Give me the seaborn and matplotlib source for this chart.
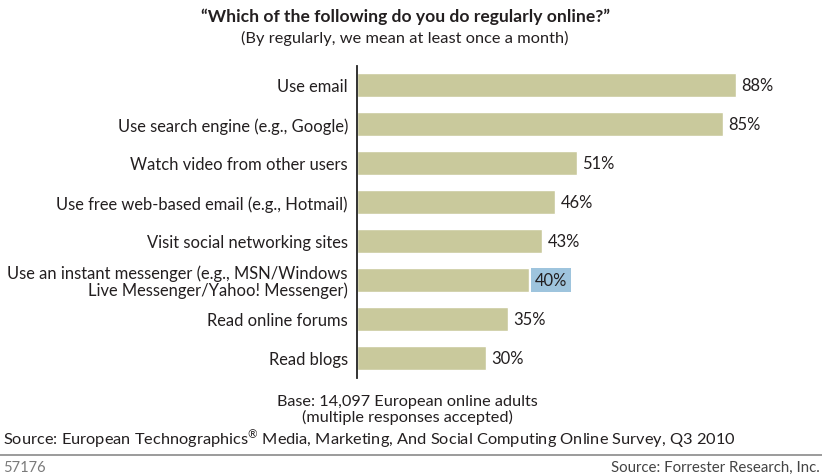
import matplotlib
matplotlib.use("Agg")
import matplotlib.pyplot as plt
import seaborn as sns
import pandas as pd

# Survey answers and shares of respondents (%)
activities = [
    "Use email",
    "Use search engine (e.g., Google)",
    "Watch video from other users",
    "Use free web-based email (e.g., Hotmail)",
    "Visit social networking sites",
    "Use an instant messenger (e.g., MSN/Windows\nLive Messenger/Yahoo! Messenger)",
    "Read online forums",
    "Read blogs",
]
shares = [88, 85, 51, 46, 43, 40, 35, 30]
highlighted = "40%"

title = "\u201cWhich of the following do you do regularly online?\u201d"
subtitle = "(By regularly, we mean at least once a month)"
base_note = "Base: 14,097 European online adults\n(multiple responses accepted)"
source_note = ("Source: European Technographics$^{\u00ae}$ Media, Marketing, And Social "
               "Computing Online Survey, Q3 2010")
figure_id = "57176"
credit = "Source: Forrester Research, Inc."

sns.set_theme(style="white")
plt.rcParams["font.family"] = ["Lato", "DejaVu Sans"]
plt.rcParams["mathtext.fontset"] = "custom"
plt.rcParams["mathtext.rm"] = "Lato"
plt.rcParams["mathtext.it"] = "Lato"
plt.rcParams["mathtext.default"] = "rm"

TEXT = "#231f20"
BAR = "#c9c99c"

df = pd.DataFrame({"activity": activities, "share": shares})

fig = plt.figure(figsize=(8.22, 4.77), dpi=100)
ax = fig.add_axes([357 / 822, 1 - 378.5 / 477, 431 / 822, 312 / 477])

sns.barplot(data=df, x="share", y="activity", orient="h", color=BAR,
            width=0.62, saturation=1, ax=ax)

ax.set_xlim(0, 100)
ax.set_ylim(len(activities) - 0.5, -0.5)
ax.set_xlabel("")
ax.set_ylabel("")
ax.set_xticks([])
ax.tick_params(axis="y", length=0, pad=6.5, labelsize=11.9, labelcolor=TEXT)
for lbl in ax.get_yticklabels():
    lbl.set_multialignment("right")
    lbl.set_linespacing(1.0)
for side in ["top", "right", "bottom"]:
    ax.spines[side].set_visible(False)
ax.spines["left"].set_color("#222222")
ax.spines["left"].set_linewidth(1.3)

for i, v in enumerate(shares):
    label = f"{v}%"
    kw = {}
    if label == highlighted:
        kw["bbox"] = dict(boxstyle="square,pad=0.22", facecolor="#9ec4dd",
                          edgecolor="none")
    ax.annotate(label, xy=(v, i), xytext=(3.8, 0), textcoords="offset points",
                va="center", ha="left", fontsize=11.9, color=TEXT, **kw)

fig.text(405 / 822, 1 - 17 / 477, title, ha="center", va="center",
         fontsize=12.6, fontweight="bold", color=TEXT)
fig.text(405 / 822, 1 - 38 / 477, subtitle, ha="center", va="center",
         fontsize=11.8, color=TEXT)
fig.text(407 / 822, 1 - 410 / 477, base_note, ha="center", va="center",
         fontsize=11.7, color=TEXT, linespacing=1.0)
fig.text(3 / 822, 1 - 440 / 477, source_note, ha="left", va="center",
         fontsize=11.8, color=TEXT)
fig.add_artist(plt.Line2D([0, 1], [1 - 456 / 477] * 2, color="#8a8a8a",
                          linewidth=1.2, transform=fig.transFigure))
fig.text(3 / 822, 1 - 468 / 477, figure_id, ha="left", va="center",
         fontsize=10.5, color="#7a7a7a")
fig.text(820 / 822, 1 - 468 / 477, credit, ha="right", va="center",
         fontsize=10.8, color="#444444")

fig.savefig("out.png", dpi=100, facecolor="white")
